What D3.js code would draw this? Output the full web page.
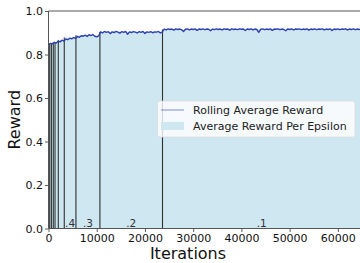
<!DOCTYPE html>
<html><head><meta charset="utf-8">
<script src="https://cdn.jsdelivr.net/npm/d3@7"></script>
<style>body{margin:0;background:#fff}svg{display:block}</style>
</head><body>
<script>
// Epsilon regions (iteration boundaries), average reward per epsilon, labels
const epsBounds = [0, 250, 600, 990, 1350, 2030, 3270, 5690, 10660, 23640, 64800];
const epsAvg = [0.845, 0.848, 0.851, 0.854, 0.858, 0.866, 0.878, 0.888, 0.904, 0.915];
const epsLabels = ["1.", ".9", ".8", ".7", ".6", ".5", ".4", ".3", ".2", ".1"];
// Rolling average reward sampled every 400 iterations from 0
const sampleStep = 400;
const rolling = [
0.846,0.851,0.849,0.856,0.853,0.861,0.858,0.866,0.862,
0.871,0.868,0.875,0.872,0.878,0.874,
0.883,0.879,0.886,0.884,0.889,0.883,0.891,0.887,0.892,0.884,0.881,0.886,
0.904,0.899,0.906,0.902,0.905,0.896,0.904,0.901,0.906,0.903,0.898,0.905,0.902,0.906,0.893,0.904,0.901,0.905,0.903,0.899,0.905,0.902,0.906,0.897,0.904,0.902,0.905,0.900,0.904,0.903,0.906,0.899,0.904,
0.917,0.913,0.918,0.915,0.917,0.912,0.918,0.915,0.917,0.914,0.906,0.916,0.918,0.913,0.917,0.915,0.918,0.911,0.917,0.915,0.918,0.914,0.917,0.916,0.909,0.917,0.914,0.918,0.915,0.917,0.913,0.918,0.916,0.917,0.912,0.918,0.915,0.917,0.914,0.918,0.916,0.917,0.910,0.917,0.915,0.918,0.913,0.917,0.915,0.902,0.916,0.918,0.914,0.917,0.915,0.918,0.911,0.917,0.916,0.918,0.914,0.917,0.915,0.909,0.917,0.915,0.918,0.913,0.917,0.916,0.918,0.914,0.917,0.915,0.918,0.912,0.917,0.915,0.918,0.914,0.917,0.916,0.918,0.913,0.917,0.915,0.918,0.910,0.917,0.915,0.918,0.914,0.917,0.916,0.918,0.913,0.917,0.915,0.918,0.914,0.917,0.915,0.916
];
const xTicks = [0, 10000, 20000, 30000, 40000, 50000, 60000];
const yTicks = [0, 0.2, 0.4, 0.6, 0.8, 1.0];
const legendItems = ["Rolling Average Reward", "Average Reward Per Epsilon"];

const W = 360, H = 263;
const m = {left: 48.5, top: 11, bottom: 228.5};
const xEnd = 361;
const font = "DejaVu Sans, sans-serif";
const fillCol = "#cfe7f1";

const svg = d3.select("body").append("svg").attr("width", W).attr("height", H);
const x = d3.scaleLinear().domain([0, 64800]).range([m.left, xEnd]);
const y = d3.scaleLinear().domain([0, 1]).range([m.bottom, m.top]);

const regions = epsAvg.map((v, i) => ({x0: epsBounds[i], x1: epsBounds[i + 1], v, label: epsLabels[i]}));

// bars
svg.append("g").selectAll("rect").data(regions).join("rect")
  .attr("x", d => x(d.x0)).attr("width", d => x(d.x1) - x(d.x0))
  .attr("y", d => y(d.v)).attr("height", d => y(0) - y(d.v))
  .attr("fill", fillCol);

// edges between regions
const edges = epsBounds.slice(1, -1).map((b, i) => ({b, top: Math.max(epsAvg[i], epsAvg[i + 1])}));
svg.append("g").selectAll("line").data(edges).join("line")
  .attr("x1", d => x(d.b)).attr("x2", d => x(d.b))
  .attr("y1", y(0)).attr("y2", d => y(d.top))
  .attr("stroke", "#111").attr("stroke-opacity", 0.85).attr("stroke-width", 1.1);

// epsilon labels where wide enough
svg.append("g").selectAll("text").data(regions.filter(d => x(d.x1) - x(d.x0) > 10)).join("text")
  .attr("x", d => (x(d.x0) + x(d.x1)) / 2).attr("y", y(0) - 2)
  .attr("text-anchor", "middle").attr("font-family", font).attr("font-size", 10.5)
  .attr("fill", "#333").text(d => d.label);

// rolling line
const line = d3.line().x((d, i) => x(i * sampleStep)).y(d => y(d));
svg.append("path").datum(rolling).attr("d", line)
  .attr("fill", "none").attr("stroke", "#2e3fb2").attr("stroke-width", 1.4)
  .attr("stroke-linejoin", "round");

// axes
const xAxis = d3.axisBottom(x).tickValues(xTicks).tickFormat(d3.format("d")).tickSize(3.5).tickPadding(2);
const gx = svg.append("g").attr("transform", `translate(0,${m.bottom})`).call(xAxis);
const yAxis = d3.axisLeft(y).tickValues(yTicks).tickFormat(d3.format(".1f")).tickSize(3.5).tickPadding(2);
const gy = svg.append("g").attr("transform", `translate(${m.left},0)`).call(yAxis);
[gx, gy].forEach(g => {
  g.selectAll("path.domain").remove();
  g.selectAll("line").attr("stroke", "#333").attr("stroke-width", 0.8);
  g.selectAll("text").attr("font-family", font).attr("font-size", 11).attr("fill", "#111");
});
// spines
svg.append("line").attr("x1", m.left).attr("x2", m.left).attr("y1", m.top).attr("y2", m.bottom).attr("stroke", "#444").attr("stroke-width", 0.9);
svg.append("line").attr("x1", m.left).attr("x2", W).attr("y1", m.bottom).attr("y2", m.bottom).attr("stroke", "#444").attr("stroke-width", 0.9);
svg.append("line").attr("x1", m.left).attr("x2", W).attr("y1", m.top).attr("y2", m.top).attr("stroke", "#444").attr("stroke-width", 0.9);

// axis titles
svg.append("text").attr("x", 188).attr("y", 258.5).attr("text-anchor", "middle")
  .attr("font-family", font).attr("font-size", 16).attr("fill", "#111").text("Iterations");
svg.append("text").attr("transform", `translate(20,${(m.top + m.bottom) / 2}) rotate(-90)`)
  .attr("text-anchor", "middle").attr("font-family", font).attr("font-size", 16).attr("fill", "#111").text("Reward");

// legend
const lg = svg.append("g");
lg.append("rect").attr("x", 157.5).attr("y", 101).attr("width", 197.5).attr("height", 36).attr("rx", 2.5)
  .attr("fill", "#fff").attr("fill-opacity", 0.8).attr("stroke", "#ddd").attr("stroke-width", 0.8);
lg.append("line").attr("x1", 161).attr("x2", 184).attr("y1", 110).attr("y2", 110)
  .attr("stroke", "#2e3fb2").attr("stroke-opacity", 0.6).attr("stroke-width", 1);
lg.append("rect").attr("x", 161).attr("y", 122).attr("width", 23).attr("height", 8).attr("fill", fillCol);
lg.selectAll("text.li").data(legendItems).join("text").attr("class", "li")
  .attr("x", 193).attr("y", (d, i) => 114 + i * 16)
  .attr("font-family", font).attr("font-size", 11).attr("fill", "#222").text(d => d);
</script>
</body></html>
